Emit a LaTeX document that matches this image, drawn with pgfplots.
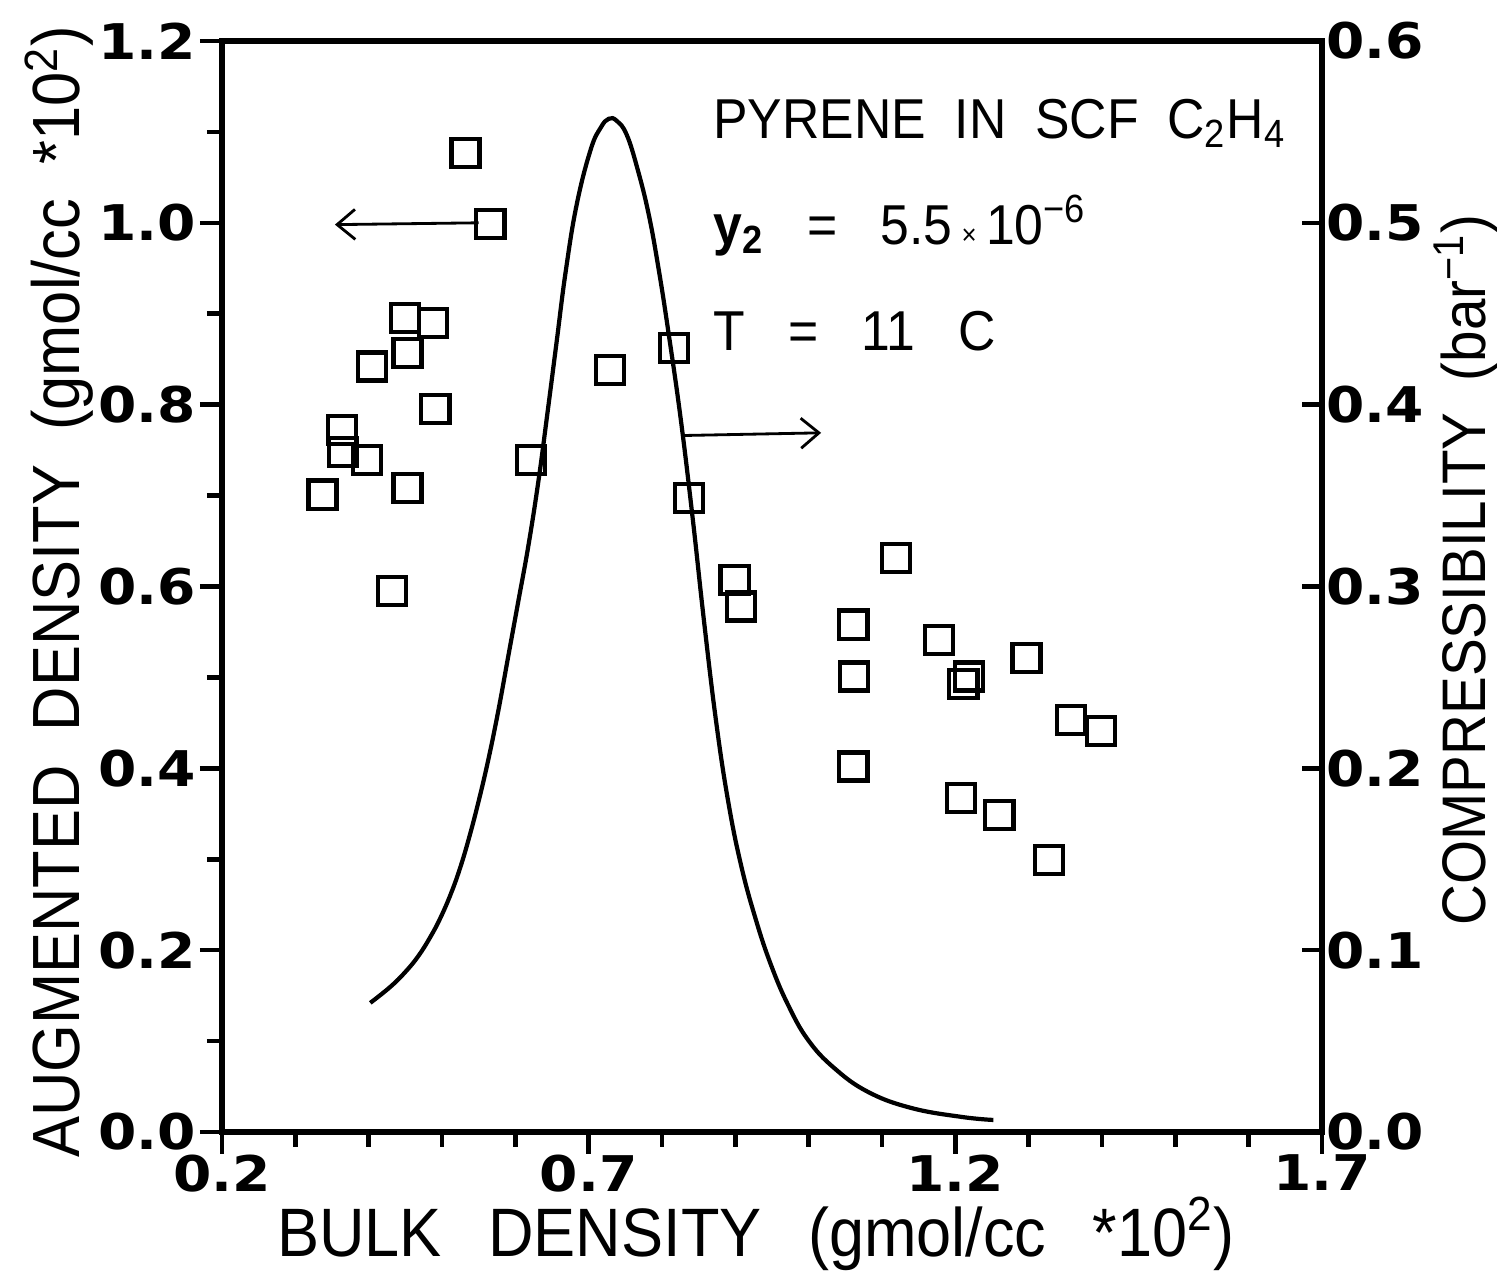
\documentclass[border=0pt]{standalone}
\usepackage{fontspec}
\setmainfont{Liberation Sans}
\newfontfamily\labfont[FakeStretch=0.92]{Liberation Sans}
\newfontfamily\tickfont[FakeStretch=1.12]{DejaVu Sans Bold}
\usepackage{pgfplots}
\pgfplotsset{compat=1.18}
\usetikzlibrary{arrows.meta}

\begin{document}
\begin{tikzpicture}
\useasboundingbox (-2.22,-1.45) rectangle (12.75,11.32);

% left axis: augmented density (squares)
\begin{axis}[
  width=11cm, height=10.91cm, scale only axis,
  xmin=0.2, xmax=1.7, ymin=0, ymax=1.2,
  axis line style={line width=1.5pt},
  xtick={0.2,0.7,1.2,1.7},
  xticklabels={0.2,0.7,1.2,1.7},
  minor xtick={0.3,0.4,0.5,0.6,0.8,0.9,1.0,1.1,1.3,1.4,1.5,1.6},
  ytick={0,0.2,0.4,0.6,0.8,1.0,1.2},
  yticklabels={0.0,0.2,0.4,0.6,0.8,1.0,1.2},
  minor ytick={0.1,0.3,0.5,0.7,0.9,1.1},
  xtick pos=bottom, ytick pos=left,
  tick align=outside,
  major tick length=0.22cm, minor tick length=0.15cm,
  every tick/.style={line width=1.3pt, black},
  ticklabel style={font=\tickfont\fontsize{14}{14}\selectfont},
  yticklabel style={inner xsep=1pt},
  xticklabel style={inner ysep=0pt},
  clip=false,
]
\addplot[only marks, mark=square, mark size=4pt, mark options={line width=1.2pt}] coordinates {
  (0.532,1.077) (0.566,0.999) (0.450,0.895) (0.488,0.890) (0.453,0.857)
  (0.405,0.842) (0.364,0.772) (0.491,0.795) (0.365,0.748) (0.398,0.739)
  (0.453,0.708) (0.337,0.701) (0.432,0.595) (0.621,0.739) (0.729,0.838)
  (0.816,0.862) (0.837,0.697) (0.899,0.607) (0.908,0.578) (1.061,0.558)
  (1.062,0.501) (1.061,0.402) (1.119,0.631) (1.178,0.541) (1.211,0.493)
  (1.219,0.501) (1.208,0.367) (1.260,0.349) (1.297,0.521) (1.358,0.453)
  (1.399,0.441) (1.328,0.299)
};
\draw[-{Straight Barb[length=1.8mm,width=3mm]}, line width=0.8pt]
  (axis cs:0.550,1.000) -- (axis cs:0.354,0.998);
\draw[-{Straight Barb[length=1.8mm,width=3mm]}, line width=0.8pt]
  (axis cs:0.826,0.766) -- (axis cs:1.017,0.769);
\node[anchor=base west, inner sep=0pt, font=\labfont\fontsize{16}{16}\selectfont]
  at (axis cs:0.869,1.093) {PYRENE\ \ IN\ \ SCF\ \ C\textsubscript{2}H\textsubscript{4}};
\node[anchor=base west, inner sep=0pt, font=\labfont\fontsize{16}{16}\selectfont]
  at (axis cs:0.869,0.976) {\textbf{y\textsubscript{2}}\ \ \ =\ \ \ 5.5\,{\footnotesize ×}\,10\textsuperscript{−6}};
\node[anchor=base west, inner sep=0pt, font=\labfont\fontsize{16}{16}\selectfont]
  at (axis cs:0.869,0.860) {T\ \ \ =\ \ \ 11\ \ \ C};
\end{axis}

% right axis: compressibility (curve)
\begin{axis}[
  width=11cm, height=10.91cm, scale only axis,
  xmin=0.2, xmax=1.7, ymin=0, ymax=0.6,
  axis x line=none, axis y line*=right,
  axis line style={line width=1.5pt},
  ytick={0,0.1,0.2,0.3,0.4,0.5,0.6},
  yticklabels={0.0,0.1,0.2,0.3,0.4,0.5,0.6},
  tick align=inside, major tick length=0.2cm,
  every tick/.style={line width=1.3pt, black},
  ticklabel style={font=\tickfont\fontsize{14}{14}\selectfont},
  yticklabel style={inner xsep=1pt},
]
\addplot[smooth, tension=0.7, line width=1.2pt] coordinates {
  (0.4022,0.0710) (0.4295,0.0798) (0.4500,0.0880) (0.4678,0.0968)
  (0.4842,0.1073) (0.4978,0.1177) (0.5115,0.1304) (0.5238,0.1441)
  (0.5361,0.1606) (0.5497,0.1815) (0.5634,0.2052) (0.5770,0.2321)
  (0.5907,0.2624) (0.6044,0.2926) (0.6180,0.3229) (0.6317,0.3586)
  (0.6440,0.3960) (0.6563,0.4345) (0.6686,0.4730) (0.6836,0.5099)
  (0.7027,0.5402) (0.7164,0.5523) (0.7273,0.5572)
  (0.7383,0.5561) (0.7519,0.5484) (0.7669,0.5292) (0.7820,0.5044)
  (0.7956,0.4741) (0.8093,0.4384) (0.8257,0.3916) (0.8421,0.3366)
  (0.8571,0.2816) (0.8735,0.2266) (0.8899,0.1826) (0.9077,0.1469)
  (0.9281,0.1166) (0.9486,0.0919) (0.9719,0.0699) (0.9992,0.0506)
  (1.0347,0.0352) (1.0811,0.0220) (1.1399,0.0132) (1.2082,0.0083)
  (1.2519,0.0066)
};
\end{axis}

\node[rotate=90, font=\labfont\fontsize{19}{19}\selectfont]
  at (-1.63,5.40) {AUGMENTED\ \ DENSITY\ \ (gmol/cc\ \ *10\textsuperscript{2})};
\node[font=\labfont\fontsize{19.5}{19.5}\selectfont]
  at (5.34,-1.02) {BULK\ \ \,DENSITY\ \ \,(gmol/cc\ \ \,*10\textsuperscript{2})};
\node[rotate=90, font=\labfont\fontsize{17.5}{17.5}\selectfont]
  at (12.44,5.62) {COMPRESSIBILITY\ \ (bar\textsuperscript{−1})};
\end{tikzpicture}
\end{document}
